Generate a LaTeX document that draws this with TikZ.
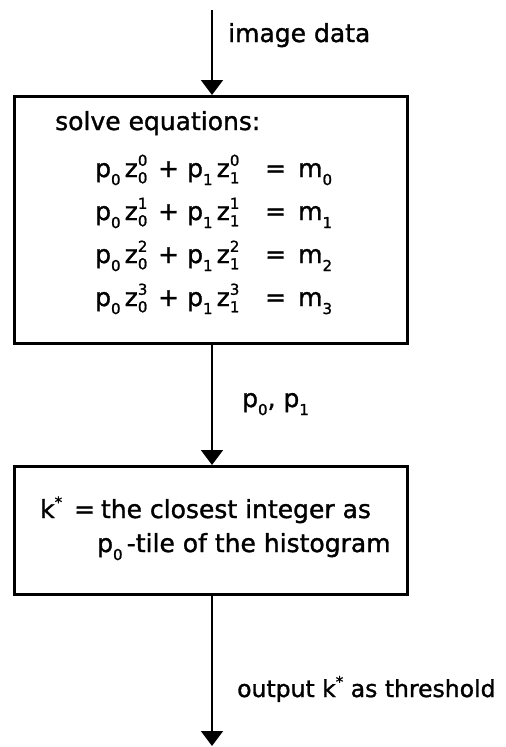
\documentclass[tikz,border=0pt]{standalone}
\usepackage{fontspec}
\setmainfont[FakeBold=1.3]{DejaVu Sans}
\usetikzlibrary{arrows.meta}

\newcommand{\idxfont}{\fontsize{15}{15}\selectfont}
\newcommand{\lowidx}[1]{\raisebox{-0.32em}{\idxfont #1}}
\newcommand{\zpow}[2]{z\rlap{\raisebox{0.45em}{\idxfont #2}}\raisebox{-0.25em}{\idxfont #1}}
\newcommand{\eqline}[1]{\makebox[63pt][l]{p\lowidx{0}\,\zpow{0}{#1}}\makebox[29pt][l]{+}\makebox[78pt][l]{p\lowidx{1}\,\zpow{1}{#1}}\makebox[33pt][l]{=}m\lowidx{#1}}

\begin{document}
\begin{tikzpicture}[x=1pt,y=-1pt,
  blockbox/.style={draw=black, line width=2.6pt, inner sep=0pt, anchor=north west},
  flow/.style={line width=2pt, -{Triangle[length=15pt, width=22pt]}},
  txt/.style={inner sep=0pt, anchor=base west, font=\fontsize{25}{28}\selectfont}]
\useasboundingbox (0,0) rectangle (506,747);
\coordinate (src) at (212,10);
\coordinate (sink) at (212,746);
\node[blockbox, minimum width=393pt, minimum height=247pt] (solve) at (13,95) {};
\node[blockbox, minimum width=393pt, minimum height=128pt] (pick) at (13,465) {};
% connectors
\draw[flow] (src) -- (src |- solve.north);
\draw[flow] (solve.south -| src) -- (pick.north -| src);
\draw[flow] (pick.south -| src) -- (sink);
% labels on the connectors
\node[txt] (indata) at (228,42) {image data};
\node[txt] (params) at (242,407) {p\lowidx{0}, p\lowidx{1}};
\node[txt, font=\fontsize{23.5}{28}\selectfont] (outdata) at (237,697) {output k\raisebox{0.42em}{\idxfont *} as threshold};
% text in the first box
\node[txt] (solvehead) at (55,130) {solve equations:};
\node[txt] (eq0) at (95,177) {\eqline{0}};
\node[txt] (eq1) at (95,220) {\eqline{1}};
\node[txt] (eq2) at (95,263) {\eqline{2}};
\node[txt] (eq3) at (95,306) {\eqline{3}};
% text in the second box
\node[txt] (pickline1) at (40,518) {k\raisebox{0.42em}{\idxfont *}\hspace{4pt} = \hspace{-2pt}the closest integer as};
\node[txt] (pickline2) at (97,552) {p\lowidx{0}\,-tile of the histogram};
\end{tikzpicture}
\end{document}
